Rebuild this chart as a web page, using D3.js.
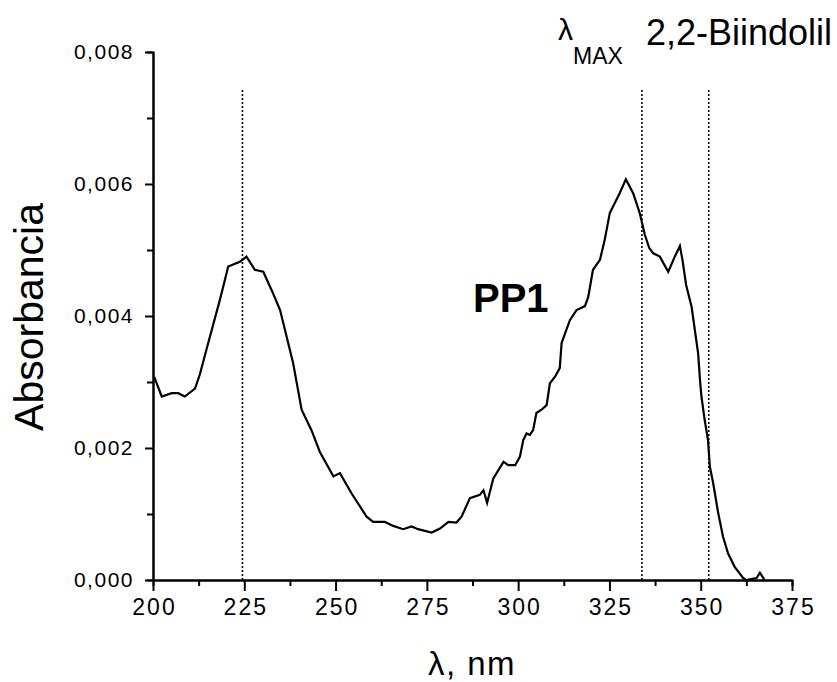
<!DOCTYPE html>
<html>
<head>
<meta charset="utf-8">
<script src="https://cdn.jsdelivr.net/npm/d3@7"></script>
<style>
  body { margin: 0; background: #fff; }
  text { font-family: "Liberation Sans", Arial, sans-serif; fill: #000; }
</style>
</head>
<body>
<svg id="canvas"></svg>
<script>
// spectrum
const wavelength = [200.3, 202.4, 205.1, 206.9, 208.7, 211.5, 212.8, 215.6, 218.3, 219.7,
  220.6, 223.8, 225.6, 227.9, 230.2, 232.9, 234.8, 238.4, 240.7, 243.4,
  245.7, 249.4, 251.2, 254.4, 258.5, 260.3, 263.5, 265.8, 268.5, 270.8,
  272.6, 276.3, 278.6, 280.9, 283.1, 284.5, 286.8, 289.5, 290.5, 291.5,
  293.2, 296.0, 297.3, 299.2, 300.5, 301.4, 302.3, 303.2, 304.1, 305.0,
  306.4, 307.8, 308.7, 310.1, 311.4, 311.9, 313.2, 314.2, 316.0, 318.3,
  319.2, 320.5, 322.4, 323.7, 325.1, 327.8, 329.5, 331.5, 333.3, 334.7,
  335.9, 337.0, 338.8, 341.1, 342.9, 344.3, 345.0, 346.0, 347.5, 349.3,
  349.8, 350.2, 351.1, 352.0, 352.5, 353.4, 354.8, 356.1, 357.5, 359.3,
  361.6, 362.4, 365.3, 366.2, 367.5];
const absorbance = [0.00308, 0.00278, 0.00283, 0.00283, 0.00278, 0.00290, 0.00311, 0.00369, 0.00424, 0.00455,
  0.00475, 0.00482, 0.00490, 0.00470, 0.00467, 0.00434, 0.00409, 0.00328, 0.00258, 0.00227,
  0.00194, 0.00157, 0.00162, 0.00131, 0.00096, 0.00088, 0.00088, 0.00082, 0.00077, 0.00081,
  0.00077, 0.00072, 0.00078, 0.00088, 0.00087, 0.00096, 0.00124, 0.00129, 0.00136, 0.00117,
  0.00154, 0.00179, 0.00174, 0.00174, 0.00187, 0.00212, 0.00222, 0.00220, 0.00227, 0.00253,
  0.00258, 0.00265, 0.00298, 0.00308, 0.00321, 0.00359, 0.00379, 0.00394, 0.00409, 0.00415,
  0.00429, 0.00470, 0.00485, 0.00515, 0.00556, 0.00586, 0.00607, 0.00586, 0.00556, 0.00523,
  0.00503, 0.00495, 0.00490, 0.00467, 0.00490, 0.00506, 0.00485, 0.00447, 0.00414, 0.00343,
  0.00303, 0.00278, 0.00242, 0.00212, 0.00172, 0.00147, 0.00101, 0.00066, 0.00040, 0.00020,
  0.00003, 0.00000, 0.00003, 0.00011, 0.00000];

const markers = [224.5, 333.9, 352.2];   // dotted lambda lines
const markerTop = 0.00745;
const xTicks = [200, 225, 250, 275, 300, 325, 350, 375];
const yTicks = [0, 0.002, 0.004, 0.006, 0.008];

const width = 837,
  height = 682,
  plotLeft = 153,
  plotRight = 792,
  plotTop = 52,
  plotBottom = 580;

const canvas = d3.select("#canvas").attr("width", width).attr("height", height);

const xScale = d3.scaleLinear().domain([200, 375]).range([plotLeft, plotRight]);
const yScale = d3.scaleLinear().domain([0, 0.008]).range([plotBottom, plotTop]);

// minor ticks first
const xMinor = d3.axisBottom(xScale).tickValues(d3.range(212.5, 375, 25)).tickSize(6).tickFormat("");
const yMinor = d3.axisLeft(yScale).tickValues(d3.range(0.001, 0.008, 0.002)).tickSize(6).tickFormat("");

canvas.append("g").attr("transform", `translate(0, ${plotBottom})`).call(xMinor);
canvas.append("g").attr("transform", `translate(${plotLeft}, 0)`).call(yMinor);

const xAxis = d3.axisBottom(xScale).tickValues(xTicks).tickSizeInner(11).tickSizeOuter(0)
  .tickPadding(8).tickFormat(d3.format("d"));
const yAxis = d3.axisLeft(yScale).tickValues(yTicks).tickSizeInner(8).tickSizeOuter(0)
  .tickPadding(11).tickFormat(d => d3.format(".3f")(d).replace(".", ","));

const gx = canvas.append("g").attr("transform", `translate(0, ${plotBottom})`).call(xAxis);
const gy = canvas.append("g").attr("transform", `translate(${plotLeft}, 0)`).call(yAxis);

canvas.selectAll(".domain, .tick line").attr("stroke", "#000").attr("stroke-width", 2);

gx.selectAll("text").attr("font-size", 23).attr("letter-spacing", 2).attr("dx", 1)
  .attr("font-family", "'Liberation Sans', Arial, sans-serif").attr("fill", "#000");
gy.selectAll("text").attr("font-size", 21).attr("letter-spacing", 1.5)
  .attr("font-family", "'Liberation Sans', Arial, sans-serif").attr("fill", "#000");

// dotted lines
canvas.selectAll(".marker").data(markers).join("line")
  .attr("class", "marker")
  .attr("x1", d => xScale(d)).attr("x2", d => xScale(d))
  .attr("y1", yScale(0)).attr("y2", yScale(markerTop))
  .attr("stroke", "#000").attr("stroke-width", 1.6).attr("stroke-dasharray", "2,2");

// spectrum
const line = d3.line().x((d, i) => xScale(wavelength[i])).y(d => yScale(d));
canvas.append("path").datum(absorbance)
  .attr("d", line).attr("fill", "none").attr("stroke", "#000").attr("stroke-width", 2.2);

// labels
canvas.append("text").attr("x", 473).attr("y", 312)
  .attr("font-size", 40).attr("font-weight", "bold").text("PP1");

canvas.append("text").attr("x", 472).attr("y", 675).attr("text-anchor", "middle")
  .attr("font-size", 33).attr("letter-spacing", 1.5).text("λ, nm");

canvas.append("text").attr("transform", "translate(43, 317) rotate(-90)")
  .attr("text-anchor", "middle").attr("font-size", 41).text("Absorbancia");

canvas.append("text").attr("x", 558).attr("y", 40).attr("font-size", 30).text("λ");
canvas.append("text").attr("x", 573).attr("y", 64).attr("font-size", 23).text("MAX");
canvas.append("text").attr("x", 646).attr("y", 45).attr("font-size", 36).text("2,2-Biindolil");
</script>
</body>
</html>
